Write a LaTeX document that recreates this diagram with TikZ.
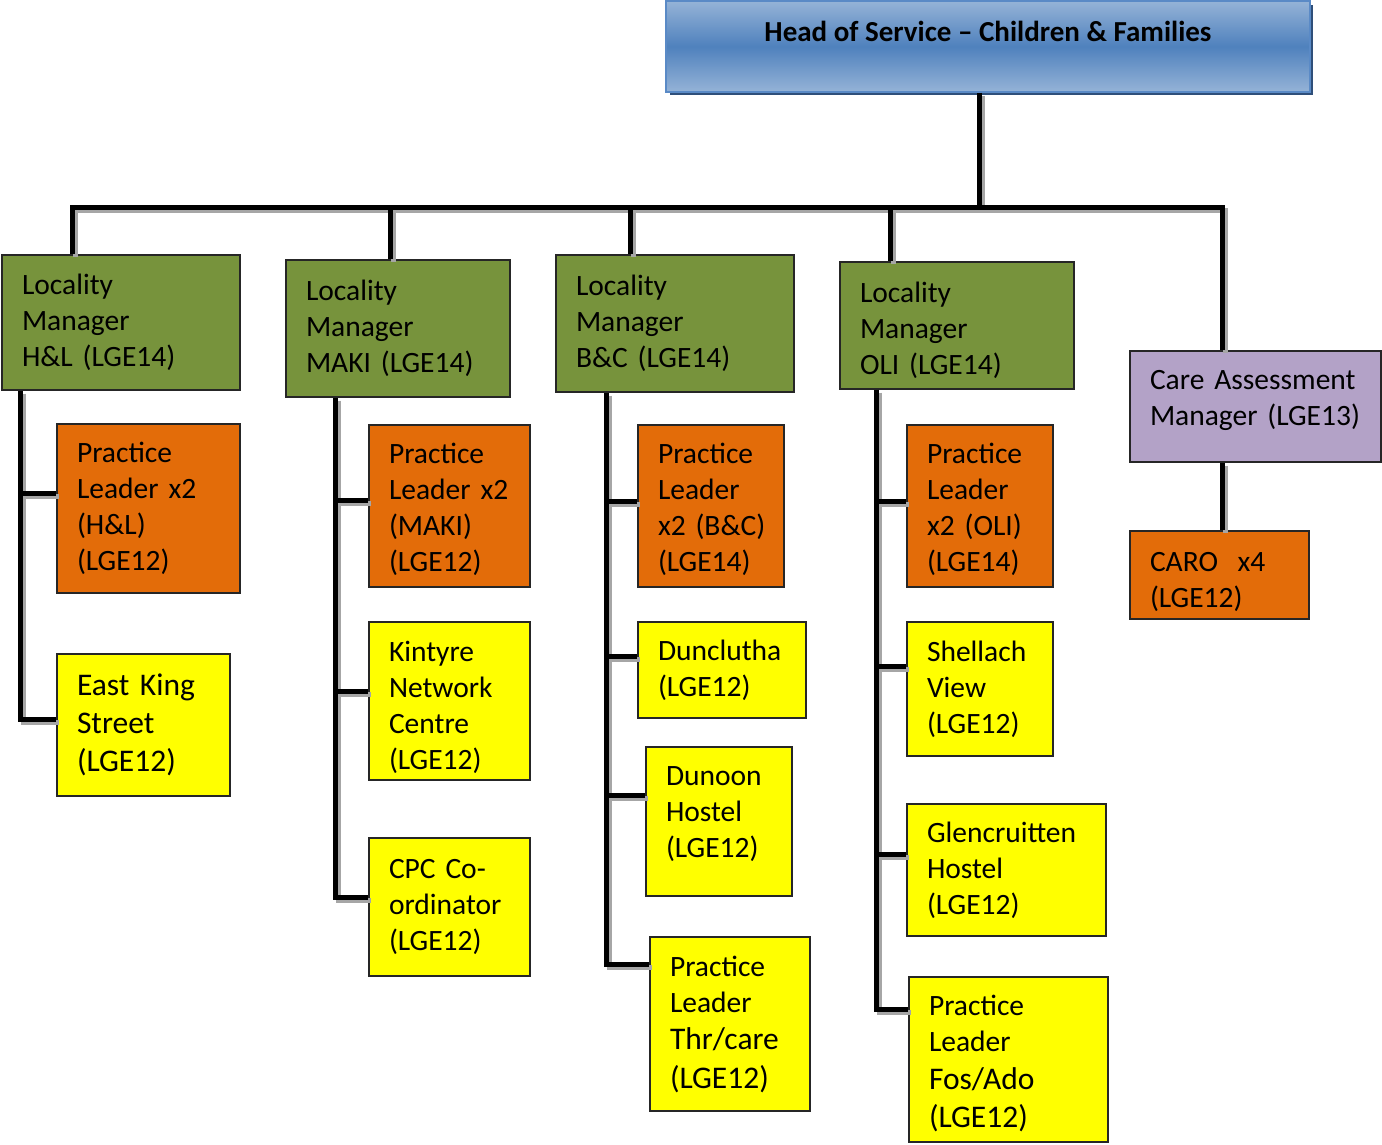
\documentclass[tikz,border=0pt]{standalone}
\usepackage{fontspec}
\setmainfont{Carlito}
\definecolor{lmgreen}{HTML}{77933C}
\definecolor{plorange}{HTML}{E36C09}
\definecolor{ylw}{HTML}{FFFF00}
\definecolor{camlilac}{HTML}{B3A2C7}
\definecolor{hdlight}{HTML}{95B3D7}
\definecolor{hdmid}{HTML}{4F81BD}
\definecolor{hdedge}{HTML}{5A8AC6}
\definecolor{hdshadow}{HTML}{2F4F7A}
\definecolor{shgray}{HTML}{A6A6A6}
\tikzset{
  bx/.style={draw=black!85, line width=1.2, inner xsep=20pt, inner ysep=0pt, align=left,
    font=\fontsize{29.5}{36}\selectfont},
  conn/.style={line width=5, black, line join=miter,
    preaction={draw=shgray, line width=5, transform canvas={shift={(3,3)}}}},
}
\begin{document}
\begin{tikzpicture}[x=1pt,y=-1pt]
\useasboundingbox (0,0) rectangle (1382,1144);
\fill[white] (0,0) rectangle (1382,1144);

% head
\fill[hdshadow] (670,5) rectangle (1313,95);
\node[draw=hdedge, line width=1.5, top color=hdlight, bottom color=hdlight, middle color=hdmid,
  minimum width=644, minimum height=91, inner sep=0] (head) at (988,46.5) {};
\node[font=\fontsize{29}{33}\selectfont\bfseries, inner sep=0] (headtxt) at (988,31) {Head of Service – Children \& Families};

% locality managers
\node[bx, fill=lmgreen, minimum width=238, minimum height=135, text width=198pt] (lm1) at (121,322.5)
  {Locality\\Manager\\H\&L~(LGE14)};
\node[bx, fill=lmgreen, minimum width=224, minimum height=137, text width=184pt] (lm2) at (398,328.5)
  {Locality\\Manager\\MAKI~(LGE14)};
\node[bx, fill=lmgreen, minimum width=238, minimum height=137, text width=198pt] (lm3) at (675,323.5)
  {Locality\\Manager\\B\&C~(LGE14)};
\node[bx, fill=lmgreen, minimum width=234, minimum height=127, text width=194pt] (lm4) at (957,325.5)
  {\rule{0pt}{30pt}Locality\\Manager\\OLI~(LGE14)};
\node[bx, fill=camlilac, minimum width=251, minimum height=111, text width=211pt] (cam) at (1255.5,406.5)
  {Care~Assessment\\Manager~(LGE13)\rule[-17pt]{0pt}{1pt}};
\node[bx, fill=plorange, minimum width=179, minimum height=88, text width=139pt] (caro) at (1219.5,575)
  {\rule{0pt}{34pt}CARO\ \ x4\\(LGE12)};

% column 1
\node[bx, fill=plorange, minimum width=183, minimum height=169, text width=143pt] (pl1) at (148.5,508.5)
  {Practice\\Leader~x2\\(H\&L)\\(LGE12)};
\node[bx, fill=ylw, minimum width=173, minimum height=142, text width=133pt,
  font=\fontsize{31.5}{38}\selectfont] (eks) at (143.5,725)
  {East~King\\Street\\(LGE12)};

% column 2
\node[bx, fill=plorange, minimum width=161, minimum height=162, text width=121pt] (pl2) at (449.5,506)
  {\rule{0pt}{27pt}Practice\\Leader~x2\\(MAKI)\\(LGE12)};
\node[bx, fill=ylw, minimum width=161, minimum height=158, text width=121pt] (kin) at (449.5,701)
  {\rule{0pt}{34pt}Kintyre\\Network\\Centre\\(LGE12)};
\node[bx, fill=ylw, minimum width=161, minimum height=138, text width=121pt] (cpc) at (449.5,907)
  {CPC~Co-\\ordinator\\(LGE12)};

% column 3
\node[bx, fill=plorange, minimum width=146, minimum height=162, text width=106pt] (pl3) at (711,506)
  {\rule{0pt}{27pt}Practice\\Leader\\x2~(B\&C)\\(LGE14)};
\node[bx, fill=ylw, minimum width=168, minimum height=96, text width=128pt] (dcl) at (722,670)
  {Dunclutha\\(LGE12)};
\node[bx, fill=ylw, minimum width=146, minimum height=149, text width=106pt] (dun) at (719,821.5)
  {Dunoon\\Hostel\\(LGE12)\rule[-19pt]{0pt}{1pt}};
\node[bx, fill=ylw, minimum width=160, minimum height=174, text width=120pt] (plt) at (730,1024)
  {Practice\\Leader\\[1pt]{\fontsize{31.5}{36}\selectfont Thr/care}\\[3pt]{\fontsize{31.5}{36}\selectfont (LGE12)}};

% column 4
\node[bx, fill=plorange, minimum width=146, minimum height=162, text width=106pt] (pl4) at (980,506)
  {\rule{0pt}{27pt}Practice\\Leader\\x2~(OLI)\\(LGE14)};
\node[bx, fill=ylw, minimum width=146, minimum height=134, text width=106pt] (she) at (980,689)
  {Shellach\\View\\(LGE12)};
\node[bx, fill=ylw, minimum width=199, minimum height=132, text width=159pt] (gle) at (1006.5,870)
  {Glencruitten\\Hostel\\(LGE12)};
\node[bx, fill=ylw, minimum width=199, minimum height=165, text width=159pt] (plf) at (1008.5,1059.5)
  {\rule{0pt}{28pt}Practice\\Leader\\[2pt]{\fontsize{31.5}{36}\selectfont Fos/Ado}\\[2pt]{\fontsize{31.5}{36}\selectfont (LGE12)}};

% connector coordinates
\coordinate (top) at (979,207);
\coordinate (bL) at (72,207);
\coordinate (b2) at (390,207);
\coordinate (b3) at (630,207);
\coordinate (b4) at (890,207);
\coordinate (bR) at (1222,207);
\coordinate (a11) at (20,493);
\coordinate (a12) at (20,719);
\coordinate (a21) at (335,500);
\coordinate (a22) at (335,691);
\coordinate (a23) at (335,897);
\coordinate (a31) at (606,501);
\coordinate (a32) at (606,656);
\coordinate (a33) at (606,795);
\coordinate (a34) at (606,964);
\coordinate (a41) at (876,501);
\coordinate (a42) at (876,666);
\coordinate (a43) at (876,854);
\coordinate (a44) at (876,1009);

% top connectors
\draw[conn] (head.south -| top) -- (top);
\draw[conn] (lm1.north -| bL) -- (bL) -- (bR) -- (cam.north -| bR);
\draw[conn] (b2) -- (b2 |- lm2.north);
\draw[conn] (b3) -- (b3 |- lm3.north);
\draw[conn] (b4) -- (b4 |- lm4.north);
\draw[conn] (cam.south -| bR) -- (caro.north -| bR);

% column 1
\draw[conn] (lm1.south -| a12) -- (a12) -- (a12 -| eks.west);
\draw[conn] (a11) -- (a11 -| pl1.west);
% column 2
\draw[conn] (lm2.south -| a23) -- (a23) -- (a23 -| cpc.west);
\draw[conn] (a21) -- (a21 -| pl2.west);
\draw[conn] (a22) -- (a22 -| kin.west);
% column 3
\draw[conn] (lm3.south -| a34) -- (a34) -- (a34 -| plt.west);
\draw[conn] (a31) -- (a31 -| pl3.west);
\draw[conn] (a32) -- (a32 -| dcl.west);
\draw[conn] (a33) -- (a33 -| dun.west);
% column 4
\draw[conn] (lm4.south -| a44) -- (a44) -- (a44 -| plf.west);
\draw[conn] (a41) -- (a41 -| pl4.west);
\draw[conn] (a42) -- (a42 -| she.west);
\draw[conn] (a43) -- (a43 -| gle.west);
\end{tikzpicture}
\end{document}
